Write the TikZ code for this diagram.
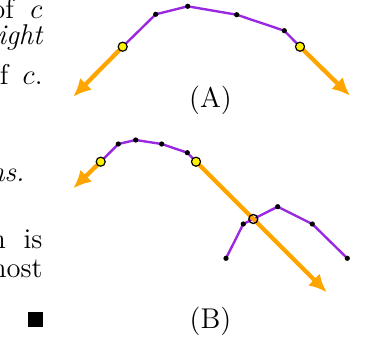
\documentclass[tikz,border=0pt]{standalone}
\usetikzlibrary{arrows.meta}
\definecolor{curvecol}{RGB}{155,40,225}
\definecolor{arrcol}{RGB}{255,165,0}
\begin{document}
\begin{tikzpicture}[x=0.42pt,y=-0.42pt,
  font=\fontsize{12}{14.4}\selectfont,
  curveline/.style={draw=curvecol,line width=1pt},
  arrline/.style={draw=arrcol,line width=1.8pt,-{Latex[length=7.5pt,width=7pt]}},
  dot/.style={circle,fill=black,inner sep=0pt,minimum size=2.2pt},
  ydot/.style={circle,fill=yellow,draw=black,line width=0.5pt,inner sep=0pt,minimum size=3.8pt},
  odot/.style={circle,draw=black,line width=0.55pt,inner sep=0pt,minimum size=3.8pt},
  txt/.style={anchor=base east,inner sep=0pt},
  lab/.style={inner sep=0pt}]
\useasboundingbox (0,0) rectangle (365,339);

% left column text (cut off)
\node[txt] (t1) at (43,18) {of\hspace{7pt}$c$};
\node[txt] (t2) at (43,44) {\itshape ight};
\node[txt] (t3) at (43,84) {of\hspace{6pt}$c$.};
\node[txt] (t4) at (25,181) {\itshape ns.};
\node[txt] (t5) at (43,248) {n\hspace{7.5pt}is};
\node[txt] (t6) at (43,277) {nost};
\node[anchor=south east,inner sep=0pt] (qed) at (43,327) {\rule{6.3pt}{6.3pt}};

% ---------- (A) ----------
\coordinate (ay1) at (122.7,46.7);
\coordinate (a1) at (155.7,14.3);
\coordinate (a2) at (187.7,6.3);
\coordinate (a3) at (236.7,14.7);
\coordinate (a4) at (284.3,30.7);
\coordinate (ay2) at (300,46.7);
\coordinate (at1) at (73.3,96.7);
\coordinate (at2) at (350,95.7);
\draw[curveline] (ay1) -- (a1) -- (a2) -- (a3) -- (a4) -- (ay2);
\foreach \p in {a1,a2,a3,a4} \node[dot] at (\p) {};
\draw[arrline] (ay1) -- (at1);
\draw[arrline] (ay2) -- (at2);
\node[ydot] (ya1) at (ay1) {};
\node[ydot] (ya2) at (ay2) {};
\node[lab] (labA) at (210.5,100.5) {(A)};

% ---------- (B) ----------
\coordinate (by1) at (100.7,161.7);
\coordinate (b1) at (118.3,144);
\coordinate (b2) at (135.7,140);
\coordinate (b3) at (161.7,144);
\coordinate (b4) at (187.3,152.7);
\coordinate (by2) at (196,161.7);
\coordinate (bt1) at (73.3,188.3);
\coordinate (bt2) at (326.7,292.3);
\coordinate (q0) at (226,258.3);
\coordinate (q1) at (243.3,224);
\coordinate (q2) at (277.7,206.7);
\coordinate (q3) at (312.3,224);
\coordinate (q4) at (347.3,258.3);
\coordinate (qx) at (253.3,219);
\draw[curveline] (by1) -- (b1) -- (b2) -- (b3) -- (b4) -- (by2);
\draw[curveline] (q0) -- (q1) -- (q2) -- (q3) -- (q4);
\foreach \p in {b1,b2,b3,b4,q0,q1,q2,q3,q4} \node[dot] at (\p) {};
\draw[arrline] (by1) -- (bt1);
\draw[arrline] (by2) -- (bt2);
\node[ydot] (yb1) at (by1) {};
\node[ydot] (yb2) at (by2) {};
\node[odot] (xb) at (qx) {};
\node[lab] (labB) at (210.5,321) {(B)};
\end{tikzpicture}
\end{document}
